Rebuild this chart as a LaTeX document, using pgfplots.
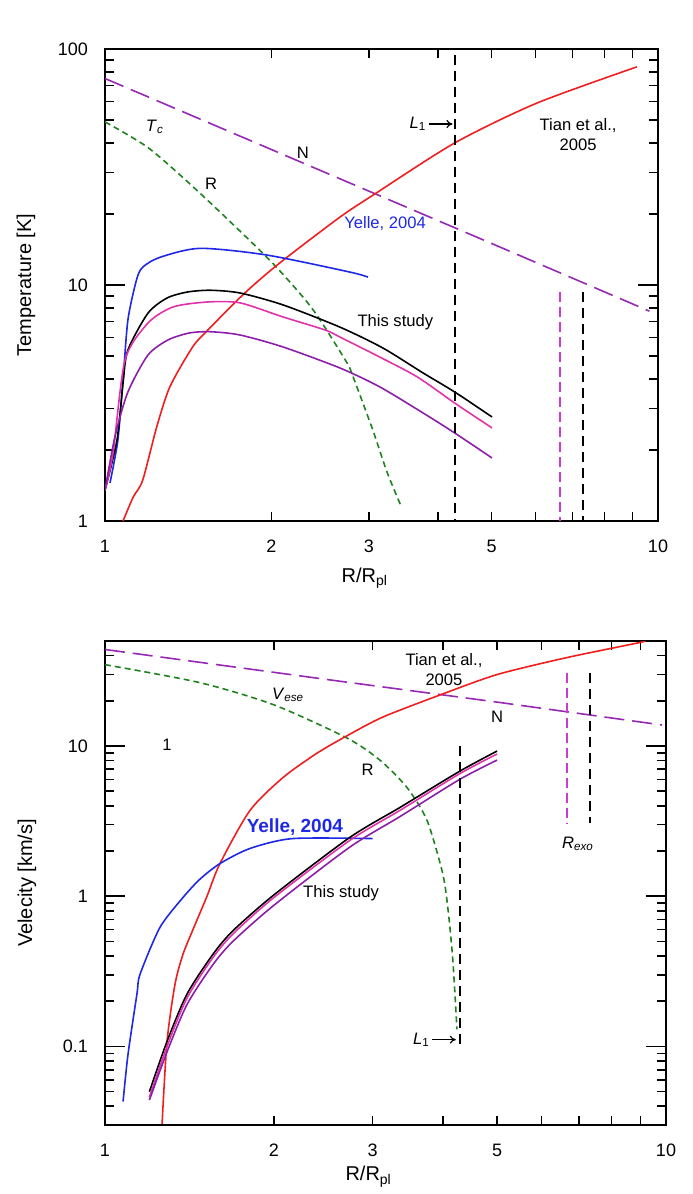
\documentclass[border=0pt]{standalone}
\usepackage{pgfplots}
\pgfplotsset{compat=1.18}
\usepackage{fontspec}
\setmainfont{Liberation Sans}
\usetikzlibrary{arrows.meta}

\definecolor{tianred}{RGB}{240,30,30}
\definecolor{yelleblue}{RGB}{30,40,230}
\definecolor{studymag}{RGB}{225,50,170}
\definecolor{studypur}{RGB}{140,30,170}
\definecolor{npurple}{RGB}{150,40,180}
\definecolor{rgreen}{RGB}{30,130,30}
\definecolor{exomag}{RGB}{200,60,210}

\tikzset{
  mycurve/.style={line width=0.8pt},
  mysmooth/.style={line width=0.8pt, smooth, tension=0.45},
  myann/.style={font=\fontsize{8.3}{10}\selectfont},
}

\begin{document}
\begin{tikzpicture}
\path[use as bounding box] (-52.5pt,24.5pt) rectangle (293.5pt,-572.5pt);

% ---------------- top: temperature ----------------
\begin{loglogaxis}[
  scale only axis,
  at={(0,0)}, anchor=north west,
  width=276.5pt, height=236pt,
  xmin=1, xmax=10, ymin=1, ymax=100,
  xtick={1,2,3,5,10}, xticklabels={1,2,3,5,10},
  minor xtick={2,3,4,5,6,7,8,9},
  ytick={1,10,100}, yticklabels={1,10,100},
  minor ytick={2,3,4,5,6,7,8,9,20,30,40,50,60,70,80,90},
  every major x tick/.append style={draw=none},
  axis line style={line width=1pt},
  every tick/.append style={black, line width=0.8pt},
  major tick length=10pt, minor tick length=4.5pt,
  tick label style={font=\fontsize{9}{11}\selectfont},
  xticklabel style={yshift=-6pt},
  yticklabel style={xshift=-5pt},
  label style={font=\fontsize{9.5}{11}\selectfont},
  xlabel={R/R\textsubscript{pl}},
  ylabel={Temperature [K]},
  every axis x label/.style={at={(axis description cs:0.47,-0.121)}, anchor=center},
  every axis y label/.style={at={(axis description cs:-0.143,0.5)}, rotate=90, anchor=center},
]
% N
\addplot[mycurve, npurple, dash pattern=on 10pt off 4pt] coordinates {
  (1,75) (2,37.5) (5,15) (9.65,7.75)};
% R (Tc)
\addplot[mysmooth, rgreen, dash pattern=on 3pt off 2pt] coordinates {
  (1,49.1) (1.2,38) (1.485,24.5) (1.963,13.1) (2.28,8.9) (2.45,7.1)
  (2.74,4.67) (2.81,4.08) (3.05,2.43) (3.24,1.6) (3.44,1.14)};
% Tian et al. 2005
\addplot[mysmooth, tianred] coordinates {
  (1.078,1) (1.124,1.26) (1.17,1.49) (1.24,2.5) (1.31,3.7) (1.44,5.46)
  (1.535,6.45) (1.79,9.25) (2.07,12.4) (2.66,19.4) (3.05,24) (4.29,40)
  (6.04,59) (9.16,84)};
% Yelle 2004
\addplot[mysmooth, yelleblue] coordinates {
  (1.021,1.45) (1.055,2.2) (1.078,3.96) (1.10,7.1) (1.14,10.5) (1.17,11.9)
  (1.257,13.1) (1.485,14.3) (1.96,13.4) (2.77,11.35) (2.99,10.8)};
% This study
\addplot[mysmooth, black] coordinates {
  (1,1.35) (1.051,2.2) (1.078,3.84) (1.10,5.3) (1.196,7.6) (1.295,8.81)
  (1.41,9.34) (1.55,9.5) (1.755,9.25) (2.1,8.23) (2.66,6.63) (3.18,5.41)
  (3.76,4.24) (4.29,3.52) (5.01,2.76)};
\addplot[mysmooth, studymag] coordinates {
  (1,1.35) (1.034,1.94) (1.087,4.81) (1.196,6.9) (1.327,8.07) (1.53,8.47)
  (1.755,8.4) (2.1,7.32) (2.5,6.45) (2.66,6.02) (3.14,4.95) (3.67,4.08)
  (4.29,3.16) (5.01,2.48)};
\addplot[mysmooth, studypur] coordinates {
  (1,1.35) (1.042,2.27) (1.10,3.52) (1.196,5.05) (1.30,5.85) (1.42,6.26)
  (1.55,6.34) (1.755,6.14) (2.1,5.46) (2.66,4.45) (3.14,3.7) (3.76,2.87)
  (4.29,2.36) (5.01,1.85)};
% vertical markers
\addplot[mycurve, black, dash pattern=on 5pt off 3pt] coordinates {(4.29,94) (4.29,1)};
\addplot[mycurve, exomag, dash pattern=on 5pt off 2.5pt] coordinates {(6.65,9.3) (6.65,1)};
\addplot[mycurve, black, dash pattern=on 5pt off 3pt] coordinates {(7.32,9.3) (7.32,1)};

\node[myann] at (axis cs:1.231,46.7) {\textit{T}\textsubscript{\textit{c}}};
\node[myann] at (axis cs:1.555,26.8) {R};
\node[myann] at (axis cs:2.28,36.3) {N};
\node[myann, text=yelleblue] at (axis cs:3.21,18.3) {Yelle, 2004};
\node[myann, align=center] at (axis cs:7.17,43.2) {Tian et al.,\\2005};
\node[myann] at (axis cs:3.35,6.97) {This study};
\draw[-{To[length=3pt,width=4pt]}, line width=0.6pt] (axis cs:3.85,48.1) -- (axis cs:4.25,48.1);
\node[myann, anchor=east, inner sep=1pt] at (axis cs:3.85,48.1) {\textit{L}\textsubscript{1}};
\node[font=\fontsize{9}{11}\selectfont, anchor=west, inner sep=0pt] at (rel axis cs:0,1.051) {x 10\textsuperscript{3}};
\end{loglogaxis}

% ---------------- bottom: velocity ----------------
\begin{loglogaxis}[
  scale only axis,
  at={(0,-296pt)}, anchor=north west,
  width=280.5pt, height=242pt,
  xmin=1, xmax=10, ymin=0.03, ymax=50,
  xtick={1,2,3,5,10}, xticklabels={1,2,3,5,10},
  minor xtick={2,3,4,5,6,7,8,9},
  ytick={0.1,1,10}, yticklabels={0.1,1,10},
  minor ytick={0.04,0.05,0.06,0.07,0.08,0.09,0.2,0.3,0.4,0.5,0.6,0.7,0.8,0.9,2,3,4,5,6,7,8,9,20,30,40},
  every major x tick/.append style={draw=none},
  axis line style={line width=1pt},
  every tick/.append style={black, line width=0.8pt},
  major tick length=10pt, minor tick length=4.5pt,
  tick label style={font=\fontsize{9}{11}\selectfont},
  xticklabel style={yshift=-6pt},
  yticklabel style={xshift=-5pt},
  label style={font=\fontsize{9.5}{11}\selectfont},
  xlabel={R/R\textsubscript{pl}},
  ylabel={Velecity [km/s]},
  every axis x label/.style={at={(axis description cs:0.47,-0.107)}, anchor=center},
  every axis y label/.style={at={(axis description cs:-0.139,0.5)}, rotate=90, anchor=center},
]
% N
\addplot[mycurve, npurple, dash pattern=on 10pt off 4pt] coordinates {
  (1,43.9) (2.62,27) (5,19.6) (9.84,13.8)};
% R (Vese)
\addplot[mysmooth, rgreen, dash pattern=on 3pt off 2pt] coordinates {
  (1,34.8) (1.477,26.4) (2.0,18.8) (2.70,11.3) (3.09,8.06) (3.45,5.32)
  (3.75,3.2) (4.0,1.41) (4.09,0.80) (4.17,0.37) (4.24,0.13)};
% Tian et al. 2005
\addplot[mysmooth, tianred] coordinates {
  (1.264,0.0305) (1.29,0.108) (1.333,0.26) (1.377,0.41) (1.435,0.6)
  (1.52,1.0) (1.603,1.65) (1.814,3.73) (2.08,6.2) (2.39,8.98) (2.7,11.7)
  (3.13,15.6) (3.96,21.9) (5.0,29.9) (6.66,38.8) (8.99,48.9) (9.1,50)};
% Yelle 2004
\addplot[mysmooth, yelleblue] coordinates {
  (1.077,0.0429) (1.099,0.0884) (1.14,0.223) (1.155,0.303) (1.253,0.62)
  (1.377,0.98) (1.477,1.3) (1.603,1.65) (1.814,2.08) (2.16,2.42) (3.0,2.42)};
% This study
\addplot[mysmooth, black] coordinates {
  (1.2,0.05) (1.29,0.108) (1.4,0.223) (1.557,0.41) (1.69,0.588) (2.0,1.02)
  (2.73,2.46) (3.36,3.91) (4.29,6.8) (5.0,9.26)};
\addplot[mysmooth, studymag] coordinates {
  (1.2,0.046) (1.29,0.10) (1.4,0.21) (1.557,0.39) (1.69,0.56) (2.0,0.98)
  (2.73,2.35) (3.36,3.74) (4.29,6.55) (5.0,8.85)};
\addplot[mysmooth, studypur] coordinates {
  (1.2,0.044) (1.29,0.092) (1.4,0.19) (1.557,0.35) (1.69,0.5) (2.0,0.87)
  (2.73,2.12) (3.36,3.4) (4.29,6.0) (5.0,8.06)};
% vertical markers
\addplot[mycurve, black, dash pattern=on 5pt off 3pt] coordinates {(4.29,10) (4.29,0.1)};
\addplot[mycurve, exomag, dash pattern=on 5pt off 2.5pt] coordinates {(6.66,30.8) (6.66,3.05)};
\addplot[mycurve, black, dash pattern=on 5pt off 3pt] coordinates {(7.32,30.8) (7.32,3.05)};

\node[myann] at (axis cs:2.12,21.9) {\textit{V}\textsubscript{\textit{ese}}};
\node[myann] at (axis cs:1.29,10.2) {1};
\node[font=\bfseries\fontsize{9.5}{11}\selectfont, text=yelleblue] at (axis cs:2.18,2.87) {Yelle, 2004};
\node[myann, align=center] at (axis cs:4.02,32.2) {Tian et al.,\\2005};
\node[myann] at (axis cs:5.0,15.6) {N};
\node[myann] at (axis cs:2.94,6.91) {R};
\node[myann] at (axis cs:6.97,2.24) {\textit{R}\textsubscript{\textit{exo}}};
\node[myann] at (axis cs:2.635,1.04) {This study};
\draw[-{To[length=3pt,width=4pt]}, line width=0.6pt] (axis cs:3.83,0.111) -- (axis cs:4.22,0.111);
\node[myann, anchor=east, inner sep=1pt] at (axis cs:3.83,0.111) {\textit{L}\textsubscript{1}};
\end{loglogaxis}
\end{tikzpicture}
\end{document}
